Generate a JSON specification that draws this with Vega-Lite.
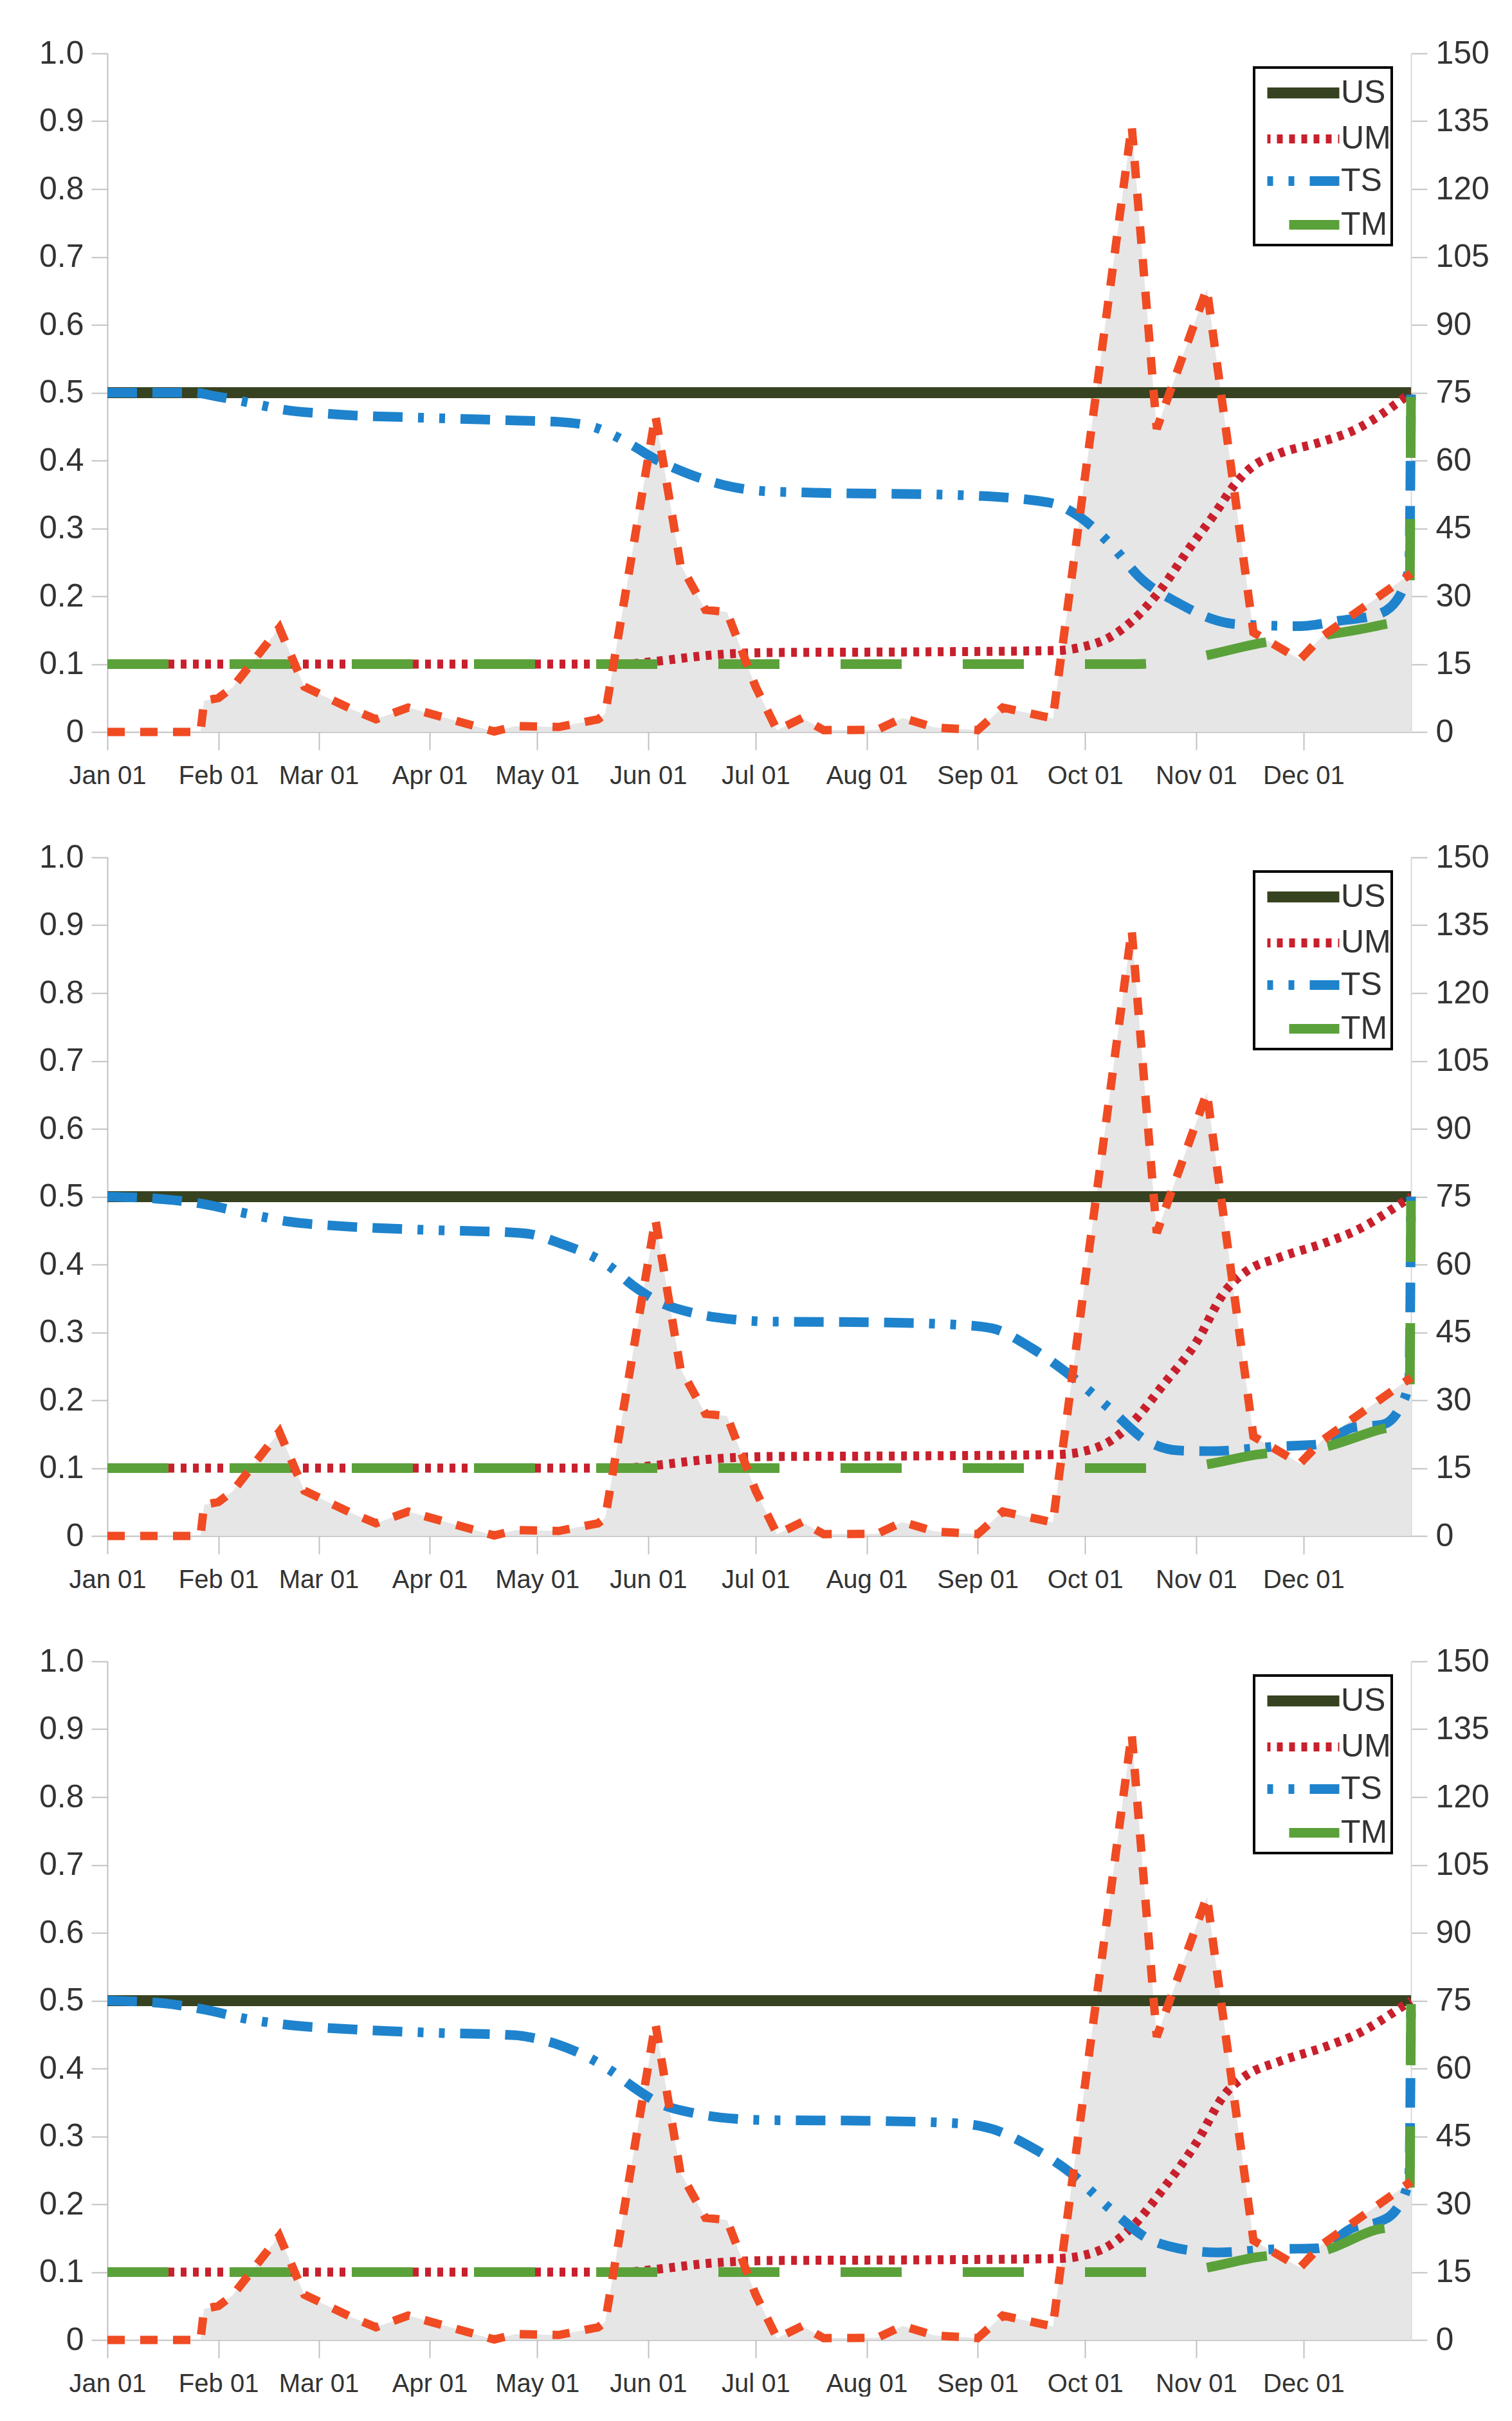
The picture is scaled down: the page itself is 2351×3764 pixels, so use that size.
{
  "$schema": "https://vega.github.io/schema/vega-lite/v6.json",
  "padding": {"left": 60, "top": 58, "right": 0, "bottom": 0},
  "background": "#ffffff",
  "bounds": "flush",
  "spacing": 195,
  "config": {
    "view": {"stroke": null},
    "font": "Liberation Sans",
    "axis": {"title": null, "labelFont": "Liberation Sans", "labelColor": "#333333", "domainColor": "#c0c0c0", "domainWidth": 2, "tickColor": "#c0c0c0", "tickWidth": 2},
    "axisBottom": {"grid": false, "tickSize": 28, "labelFontSize": 40, "labelPadding": 20, "labelOverlap": false, "labelFlush": false},
    "axisLeft": {"grid": true, "gridColor": "#c8c8c8", "gridWidth": 2, "tickSize": 25, "labelFontSize": 50, "labelPadding": 12},
    "axisRight": {"grid": false, "domainColor": "#d9d9d9", "tickSize": 25, "labelFontSize": 50, "labelPadding": 13},
    "legend": {"title": null, "symbolType": "M-0.633,0H3.1", "symbolSize": 3600, "symbolStrokeWidth": 16, "symbolDashOffset": 1866, "labelFont": "Liberation Sans", "labelFontSize": 50, "labelColor": "#333333", "labelOffset": 57, "padding": 1, "rowPadding": -25, "strokeColor": "#000000", "fillColor": "#ffffff"}
  },
  "datasets": {
    "area": [
      {"d": "2021/01/01", "v": 0}, {"d": "2021/01/27", "v": 0}, {"d": "2021/01/28", "v": 6.9},
      {"d": "2021/02/01", "v": 7.5}, {"d": "2021/02/05", "v": 9.9}, {"d": "2021/02/18", "v": 23},
      {"d": "2021/02/25", "v": 10}, {"d": "2021/03/10", "v": 5.1}, {"d": "2021/03/17", "v": 2.8},
      {"d": "2021/03/26", "v": 5.4}, {"d": "2021/04/19", "v": 0.1}, {"d": "2021/04/25", "v": 1.3},
      {"d": "2021/05/07", "v": 1.1}, {"d": "2021/05/18", "v": 2.8}, {"d": "2021/05/20", "v": 4},
      {"d": "2021/06/03", "v": 70}, {"d": "2021/06/10", "v": 37}, {"d": "2021/06/17", "v": 27},
      {"d": "2021/06/23", "v": 26.5}, {"d": "2021/07/01", "v": 10}, {"d": "2021/07/07", "v": 0.4},
      {"d": "2021/07/14", "v": 3.1}, {"d": "2021/07/20", "v": 0.4}, {"d": "2021/08/04", "v": 0.5},
      {"d": "2021/08/11", "v": 3.1}, {"d": "2021/08/20", "v": 1.0}, {"d": "2021/09/01", "v": 0.4},
      {"d": "2021/09/08", "v": 5.4}, {"d": "2021/09/22", "v": 3}, {"d": "2021/10/14", "v": 134},
      {"d": "2021/10/21", "v": 67}, {"d": "2021/11/04", "v": 98}, {"d": "2021/11/17", "v": 22},
      {"d": "2021/11/30", "v": 16}, {"d": "2021/12/06", "v": 21}, {"d": "2021/12/31", "v": 35}
    ],
    "lines": [
      {"p": 1, "s": "US", "d": "2021/01/01", "v": 0.5}, {"p": 1, "s": "US", "d": "2021/12/31", "v": 0.5},
      {"p": 1, "s": "UM", "d": "2021/01/01", "v": 0.1}, {"p": 1, "s": "UM", "d": "2021/05/25", "v": 0.1},
      {"p": 1, "s": "UM", "d": "2021/06/03", "v": 0.104}, {"p": 1, "s": "UM", "d": "2021/06/18", "v": 0.113},
      {"p": 1, "s": "UM", "d": "2021/07/04", "v": 0.117}, {"p": 1, "s": "UM", "d": "2021/08/15", "v": 0.118},
      {"p": 1, "s": "UM", "d": "2021/09/23", "v": 0.12}, {"p": 1, "s": "UM", "d": "2021/09/30", "v": 0.125},
      {"p": 1, "s": "UM", "d": "2021/10/08", "v": 0.14}, {"p": 1, "s": "UM", "d": "2021/10/14", "v": 0.163},
      {"p": 1, "s": "UM", "d": "2021/10/22", "v": 0.209}, {"p": 1, "s": "UM", "d": "2021/10/30", "v": 0.27},
      {"p": 1, "s": "UM", "d": "2021/11/06", "v": 0.32}, {"p": 1, "s": "UM", "d": "2021/11/12", "v": 0.366},
      {"p": 1, "s": "UM", "d": "2021/11/16", "v": 0.388}, {"p": 1, "s": "UM", "d": "2021/11/24", "v": 0.41},
      {"p": 1, "s": "UM", "d": "2021/12/05", "v": 0.426}, {"p": 1, "s": "UM", "d": "2021/12/16", "v": 0.447},
      {"p": 1, "s": "UM", "d": "2021/12/29", "v": 0.492}, {"p": 1, "s": "UM", "d": "2021/12/31", "v": 0.5},
      {"p": 1, "s": "TS", "d": "2021/01/01", "v": 0.5}, {"p": 1, "s": "TS", "d": "2021/01/25", "v": 0.5},
      {"p": 1, "s": "TS", "d": "2021/01/31", "v": 0.495}, {"p": 1, "s": "TS", "d": "2021/02/10", "v": 0.485},
      {"p": 1, "s": "TS", "d": "2021/02/18", "v": 0.476}, {"p": 1, "s": "TS", "d": "2021/03/06", "v": 0.468},
      {"p": 1, "s": "TS", "d": "2021/03/31", "v": 0.463}, {"p": 1, "s": "TS", "d": "2021/04/25", "v": 0.459},
      {"p": 1, "s": "TS", "d": "2021/05/07", "v": 0.457}, {"p": 1, "s": "TS", "d": "2021/05/17", "v": 0.449},
      {"p": 1, "s": "TS", "d": "2021/05/22", "v": 0.438}, {"p": 1, "s": "TS", "d": "2021/05/28", "v": 0.421},
      {"p": 1, "s": "TS", "d": "2021/06/03", "v": 0.402}, {"p": 1, "s": "TS", "d": "2021/06/11", "v": 0.383},
      {"p": 1, "s": "TS", "d": "2021/06/22", "v": 0.364}, {"p": 1, "s": "TS", "d": "2021/07/03", "v": 0.355},
      {"p": 1, "s": "TS", "d": "2021/07/14", "v": 0.353}, {"p": 1, "s": "TS", "d": "2021/08/27", "v": 0.349},
      {"p": 1, "s": "TS", "d": "2021/09/21", "v": 0.338}, {"p": 1, "s": "TS", "d": "2021/09/30", "v": 0.315},
      {"p": 1, "s": "TS", "d": "2021/10/08", "v": 0.277}, {"p": 1, "s": "TS", "d": "2021/10/17", "v": 0.224},
      {"p": 1, "s": "TS", "d": "2021/10/27", "v": 0.19}, {"p": 1, "s": "TS", "d": "2021/11/07", "v": 0.164},
      {"p": 1, "s": "TS", "d": "2021/11/12", "v": 0.159}, {"p": 1, "s": "TS", "d": "2021/11/30", "v": 0.156},
      {"p": 1, "s": "TS", "d": "2021/12/11", "v": 0.164}, {"p": 1, "s": "TS", "d": "2021/12/21", "v": 0.172},
      {"p": 1, "s": "TS", "d": "2021/12/27", "v": 0.194}, {"p": 1, "s": "TS", "d": "2021/12/29", "v": 0.215},
      {"p": 1, "s": "TS", "d": "2021/12/30 12:00", "v": 0.245}, {"p": 1, "s": "TS", "d": "2021/12/31", "v": 0.5},
      {"p": 1, "s": "TM", "d": "2021/01/01", "v": 0.1}, {"p": 1, "s": "TM", "d": "2021/10/15", "v": 0.1},
      {"p": 1, "s": "TM", "d": "2021/10/25", "v": 0.104}, {"p": 1, "s": "TM", "d": "2021/11/03", "v": 0.112},
      {"p": 1, "s": "TM", "d": "2021/11/19", "v": 0.131}, {"p": 1, "s": "TM", "d": "2021/12/06", "v": 0.142},
      {"p": 1, "s": "TM", "d": "2021/12/23", "v": 0.158}, {"p": 1, "s": "TM", "d": "2021/12/30 12:00", "v": 0.168},
      {"p": 1, "s": "TM", "d": "2021/12/31", "v": 0.5},

      {"p": 2, "s": "US", "d": "2021/01/01", "v": 0.5}, {"p": 2, "s": "US", "d": "2021/12/31", "v": 0.5},
      {"p": 2, "s": "UM", "d": "2021/01/01", "v": 0.1}, {"p": 2, "s": "UM", "d": "2021/05/25", "v": 0.1},
      {"p": 2, "s": "UM", "d": "2021/06/03", "v": 0.104}, {"p": 2, "s": "UM", "d": "2021/06/18", "v": 0.113},
      {"p": 2, "s": "UM", "d": "2021/07/04", "v": 0.117}, {"p": 2, "s": "UM", "d": "2021/08/15", "v": 0.118},
      {"p": 2, "s": "UM", "d": "2021/09/23", "v": 0.12}, {"p": 2, "s": "UM", "d": "2021/09/30", "v": 0.124},
      {"p": 2, "s": "UM", "d": "2021/10/08", "v": 0.14}, {"p": 2, "s": "UM", "d": "2021/10/14", "v": 0.166},
      {"p": 2, "s": "UM", "d": "2021/10/23", "v": 0.224}, {"p": 2, "s": "UM", "d": "2021/11/01", "v": 0.285},
      {"p": 2, "s": "UM", "d": "2021/11/09", "v": 0.36}, {"p": 2, "s": "UM", "d": "2021/11/15", "v": 0.39},
      {"p": 2, "s": "UM", "d": "2021/11/24", "v": 0.41}, {"p": 2, "s": "UM", "d": "2021/12/07", "v": 0.432},
      {"p": 2, "s": "UM", "d": "2021/12/16", "v": 0.451}, {"p": 2, "s": "UM", "d": "2021/12/29", "v": 0.493},
      {"p": 2, "s": "UM", "d": "2021/12/31", "v": 0.5},
      {"p": 2, "s": "TS", "d": "2021/01/01", "v": 0.5}, {"p": 2, "s": "TS", "d": "2021/01/15", "v": 0.497},
      {"p": 2, "s": "TS", "d": "2021/01/28", "v": 0.489}, {"p": 2, "s": "TS", "d": "2021/02/09", "v": 0.475},
      {"p": 2, "s": "TS", "d": "2021/02/21", "v": 0.463}, {"p": 2, "s": "TS", "d": "2021/03/06", "v": 0.457},
      {"p": 2, "s": "TS", "d": "2021/03/31", "v": 0.451}, {"p": 2, "s": "TS", "d": "2021/04/25", "v": 0.447},
      {"p": 2, "s": "TS", "d": "2021/04/29", "v": 0.445}, {"p": 2, "s": "TS", "d": "2021/05/07", "v": 0.432},
      {"p": 2, "s": "TS", "d": "2021/05/21", "v": 0.398}, {"p": 2, "s": "TS", "d": "2021/05/28", "v": 0.368},
      {"p": 2, "s": "TS", "d": "2021/06/04", "v": 0.345}, {"p": 2, "s": "TS", "d": "2021/06/14", "v": 0.328},
      {"p": 2, "s": "TS", "d": "2021/06/25", "v": 0.319}, {"p": 2, "s": "TS", "d": "2021/07/04", "v": 0.316},
      {"p": 2, "s": "TS", "d": "2021/08/01", "v": 0.315}, {"p": 2, "s": "TS", "d": "2021/08/27", "v": 0.311},
      {"p": 2, "s": "TS", "d": "2021/09/05", "v": 0.306}, {"p": 2, "s": "TS", "d": "2021/09/16", "v": 0.277},
      {"p": 2, "s": "TS", "d": "2021/09/27", "v": 0.236}, {"p": 2, "s": "TS", "d": "2021/10/08", "v": 0.187},
      {"p": 2, "s": "TS", "d": "2021/10/18", "v": 0.141}, {"p": 2, "s": "TS", "d": "2021/10/27", "v": 0.126},
      {"p": 2, "s": "TS", "d": "2021/11/05", "v": 0.125}, {"p": 2, "s": "TS", "d": "2021/11/24", "v": 0.132},
      {"p": 2, "s": "TS", "d": "2021/12/05", "v": 0.135}, {"p": 2, "s": "TS", "d": "2021/12/15", "v": 0.16},
      {"p": 2, "s": "TS", "d": "2021/12/23", "v": 0.164}, {"p": 2, "s": "TS", "d": "2021/12/28", "v": 0.19},
      {"p": 2, "s": "TS", "d": "2021/12/30 12:00", "v": 0.23}, {"p": 2, "s": "TS", "d": "2021/12/31", "v": 0.5},
      {"p": 2, "s": "TM", "d": "2021/01/01", "v": 0.1}, {"p": 2, "s": "TM", "d": "2021/10/17", "v": 0.1},
      {"p": 2, "s": "TM", "d": "2021/10/25", "v": 0.1}, {"p": 2, "s": "TM", "d": "2021/11/02", "v": 0.104},
      {"p": 2, "s": "TM", "d": "2021/11/18", "v": 0.12}, {"p": 2, "s": "TM", "d": "2021/12/06", "v": 0.13},
      {"p": 2, "s": "TM", "d": "2021/12/21", "v": 0.155}, {"p": 2, "s": "TM", "d": "2021/12/30 12:00", "v": 0.17},
      {"p": 2, "s": "TM", "d": "2021/12/31", "v": 0.5},

      {"p": 3, "s": "US", "d": "2021/01/01", "v": 0.5}, {"p": 3, "s": "US", "d": "2021/12/31", "v": 0.5},
      {"p": 3, "s": "UM", "d": "2021/01/01", "v": 0.1}, {"p": 3, "s": "UM", "d": "2021/05/25", "v": 0.1},
      {"p": 3, "s": "UM", "d": "2021/06/03", "v": 0.104}, {"p": 3, "s": "UM", "d": "2021/06/18", "v": 0.113},
      {"p": 3, "s": "UM", "d": "2021/07/04", "v": 0.117}, {"p": 3, "s": "UM", "d": "2021/08/15", "v": 0.118},
      {"p": 3, "s": "UM", "d": "2021/09/23", "v": 0.12}, {"p": 3, "s": "UM", "d": "2021/09/30", "v": 0.124},
      {"p": 3, "s": "UM", "d": "2021/10/08", "v": 0.14}, {"p": 3, "s": "UM", "d": "2021/10/14", "v": 0.166},
      {"p": 3, "s": "UM", "d": "2021/10/23", "v": 0.224}, {"p": 3, "s": "UM", "d": "2021/11/01", "v": 0.29},
      {"p": 3, "s": "UM", "d": "2021/11/09", "v": 0.362}, {"p": 3, "s": "UM", "d": "2021/11/15", "v": 0.39},
      {"p": 3, "s": "UM", "d": "2021/11/24", "v": 0.41}, {"p": 3, "s": "UM", "d": "2021/12/07", "v": 0.432},
      {"p": 3, "s": "UM", "d": "2021/12/16", "v": 0.451}, {"p": 3, "s": "UM", "d": "2021/12/29", "v": 0.493},
      {"p": 3, "s": "UM", "d": "2021/12/31", "v": 0.5},
      {"p": 3, "s": "TS", "d": "2021/01/01", "v": 0.5}, {"p": 3, "s": "TS", "d": "2021/01/15", "v": 0.497},
      {"p": 3, "s": "TS", "d": "2021/01/28", "v": 0.487}, {"p": 3, "s": "TS", "d": "2021/02/09", "v": 0.473},
      {"p": 3, "s": "TS", "d": "2021/02/21", "v": 0.464}, {"p": 3, "s": "TS", "d": "2021/03/06", "v": 0.459},
      {"p": 3, "s": "TS", "d": "2021/03/31", "v": 0.453}, {"p": 3, "s": "TS", "d": "2021/04/25", "v": 0.449},
      {"p": 3, "s": "TS", "d": "2021/04/29", "v": 0.446}, {"p": 3, "s": "TS", "d": "2021/05/07", "v": 0.435},
      {"p": 3, "s": "TS", "d": "2021/05/21", "v": 0.399}, {"p": 3, "s": "TS", "d": "2021/05/28", "v": 0.372},
      {"p": 3, "s": "TS", "d": "2021/06/04", "v": 0.349}, {"p": 3, "s": "TS", "d": "2021/06/14", "v": 0.334},
      {"p": 3, "s": "TS", "d": "2021/06/25", "v": 0.326}, {"p": 3, "s": "TS", "d": "2021/07/04", "v": 0.324},
      {"p": 3, "s": "TS", "d": "2021/08/01", "v": 0.323}, {"p": 3, "s": "TS", "d": "2021/08/27", "v": 0.319},
      {"p": 3, "s": "TS", "d": "2021/09/05", "v": 0.311}, {"p": 3, "s": "TS", "d": "2021/09/16", "v": 0.284},
      {"p": 3, "s": "TS", "d": "2021/09/27", "v": 0.246}, {"p": 3, "s": "TS", "d": "2021/10/08", "v": 0.193},
      {"p": 3, "s": "TS", "d": "2021/10/18", "v": 0.151}, {"p": 3, "s": "TS", "d": "2021/10/27", "v": 0.135},
      {"p": 3, "s": "TS", "d": "2021/11/07", "v": 0.129}, {"p": 3, "s": "TS", "d": "2021/11/24", "v": 0.134},
      {"p": 3, "s": "TS", "d": "2021/12/05", "v": 0.135}, {"p": 3, "s": "TS", "d": "2021/12/15", "v": 0.166},
      {"p": 3, "s": "TS", "d": "2021/12/22", "v": 0.174}, {"p": 3, "s": "TS", "d": "2021/12/27", "v": 0.193},
      {"p": 3, "s": "TS", "d": "2021/12/30 12:00", "v": 0.24}, {"p": 3, "s": "TS", "d": "2021/12/31", "v": 0.5},
      {"p": 3, "s": "TM", "d": "2021/01/01", "v": 0.1}, {"p": 3, "s": "TM", "d": "2021/10/17", "v": 0.1},
      {"p": 3, "s": "TM", "d": "2021/10/25", "v": 0.101}, {"p": 3, "s": "TM", "d": "2021/11/02", "v": 0.105},
      {"p": 3, "s": "TM", "d": "2021/11/18", "v": 0.122}, {"p": 3, "s": "TM", "d": "2021/12/06", "v": 0.131},
      {"p": 3, "s": "TM", "d": "2021/12/21", "v": 0.162}, {"p": 3, "s": "TM", "d": "2021/12/30 12:00", "v": 0.172},
      {"p": 3, "s": "TM", "d": "2021/12/31", "v": 0.5}
    ]
  },
  "vconcat": [
    {
      "width": 2027, "height": 1055,
      "encoding": {"x": {"field": "d", "type": "temporal", "scale": {"domain": [{"year": 2021, "month": 1, "date": 1}, {"year": 2021, "month": 12, "date": 31}]}, "axis": {"format": "%b %d", "tickCount": {"interval": "month", "step": 1}}}},
      "layer": [
        {"data": {"name": "area"}, "mark": {"type": "area", "color": "#e6e6e6"},
         "encoding": {"y": {"field": "v", "type": "quantitative", "scale": {"domain": [0, 150]}, "axis": {"orient": "right", "values": [0, 15, 30, 45, 60, 75, 90, 105, 120, 135, 150]}}}},
        {"data": {"name": "lines"}, "transform": [{"filter": "datum.p == 1"}],
         "mark": {"type": "line", "interpolate": "monotone", "strokeCap": "butt"},
         "encoding": {
           "y": {"field": "v", "type": "quantitative", "scale": {"domain": [0, 1]}, "axis": {"orient": "left", "values": [0, 0.1, 0.2, 0.3, 0.4, 0.5, 0.6, 0.7, 0.8, 0.9, 1], "labelExpr": "datum.value == 0 ? '0' : format(datum.value, '.1f')"}},
           "color": {"field": "s", "type": "nominal", "scale": {"domain": ["US", "UM", "TS", "TM"], "range": ["#374220", "#c8202c", "#1e83cc", "#5ba13a"]}, "legend": {"orient": "none", "legendX": 1783, "legendY": 22, "encode": {"legend": {"update": {"strokeWidth": {"value": 4}}}}}},
           "strokeDash": {"field": "s", "type": "nominal", "scale": {"domain": ["US", "UM", "TS", "TM"], "range": [[1, 0], [9, 10], [46, 24, 46, 24, 46, 24, 9, 24, 9, 24], [95, 95]]}, "legend": {"orient": "none", "legendX": 1783, "legendY": 22}},
           "strokeWidth": {"field": "s", "type": "nominal", "scale": {"type": "ordinal", "domain": ["US", "UM", "TS", "TM"], "range": [17, 14, 15, 15]}, "legend": null}
         }},
        {"data": {"name": "area"}, "mark": {"type": "line", "color": "#f04b23", "strokeWidth": 13, "strokeDash": [27, 24], "strokeCap": "butt"},
         "encoding": {"y": {"field": "v", "type": "quantitative", "scale": {"domain": [0, 150]}, "axis": null}}}
      ],
      "resolve": {"scale": {"y": "independent"}}
    },
    {
      "width": 2027, "height": 1055,
      "encoding": {"x": {"field": "d", "type": "temporal", "scale": {"domain": [{"year": 2021, "month": 1, "date": 1}, {"year": 2021, "month": 12, "date": 31}]}, "axis": {"format": "%b %d", "tickCount": {"interval": "month", "step": 1}}}},
      "layer": [
        {"data": {"name": "area"}, "mark": {"type": "area", "color": "#e6e6e6"},
         "encoding": {"y": {"field": "v", "type": "quantitative", "scale": {"domain": [0, 150]}, "axis": {"orient": "right", "values": [0, 15, 30, 45, 60, 75, 90, 105, 120, 135, 150]}}}},
        {"data": {"name": "lines"}, "transform": [{"filter": "datum.p == 2"}],
         "mark": {"type": "line", "interpolate": "monotone", "strokeCap": "butt"},
         "encoding": {
           "y": {"field": "v", "type": "quantitative", "scale": {"domain": [0, 1]}, "axis": {"orient": "left", "values": [0, 0.1, 0.2, 0.3, 0.4, 0.5, 0.6, 0.7, 0.8, 0.9, 1], "labelExpr": "datum.value == 0 ? '0' : format(datum.value, '.1f')"}},
           "color": {"field": "s", "type": "nominal", "scale": {"domain": ["US", "UM", "TS", "TM"], "range": ["#374220", "#c8202c", "#1e83cc", "#5ba13a"]}, "legend": {"orient": "none", "legendX": 1783, "legendY": 22, "encode": {"legend": {"update": {"strokeWidth": {"value": 4}}}}}},
           "strokeDash": {"field": "s", "type": "nominal", "scale": {"domain": ["US", "UM", "TS", "TM"], "range": [[1, 0], [9, 10], [46, 24, 46, 24, 46, 24, 9, 24, 9, 24], [95, 95]]}, "legend": {"orient": "none", "legendX": 1783, "legendY": 22}},
           "strokeWidth": {"field": "s", "type": "nominal", "scale": {"type": "ordinal", "domain": ["US", "UM", "TS", "TM"], "range": [17, 14, 15, 15]}, "legend": null}
         }},
        {"data": {"name": "area"}, "mark": {"type": "line", "color": "#f04b23", "strokeWidth": 13, "strokeDash": [27, 24], "strokeCap": "butt"},
         "encoding": {"y": {"field": "v", "type": "quantitative", "scale": {"domain": [0, 150]}, "axis": null}}}
      ],
      "resolve": {"scale": {"y": "independent"}}
    },
    {
      "width": 2027, "height": 1055,
      "encoding": {"x": {"field": "d", "type": "temporal", "scale": {"domain": [{"year": 2021, "month": 1, "date": 1}, {"year": 2021, "month": 12, "date": 31}]}, "axis": {"format": "%b %d", "tickCount": {"interval": "month", "step": 1}}}},
      "layer": [
        {"data": {"name": "area"}, "mark": {"type": "area", "color": "#e6e6e6"},
         "encoding": {"y": {"field": "v", "type": "quantitative", "scale": {"domain": [0, 150]}, "axis": {"orient": "right", "values": [0, 15, 30, 45, 60, 75, 90, 105, 120, 135, 150]}}}},
        {"data": {"name": "lines"}, "transform": [{"filter": "datum.p == 3"}],
         "mark": {"type": "line", "interpolate": "monotone", "strokeCap": "butt"},
         "encoding": {
           "y": {"field": "v", "type": "quantitative", "scale": {"domain": [0, 1]}, "axis": {"orient": "left", "values": [0, 0.1, 0.2, 0.3, 0.4, 0.5, 0.6, 0.7, 0.8, 0.9, 1], "labelExpr": "datum.value == 0 ? '0' : format(datum.value, '.1f')"}},
           "color": {"field": "s", "type": "nominal", "scale": {"domain": ["US", "UM", "TS", "TM"], "range": ["#374220", "#c8202c", "#1e83cc", "#5ba13a"]}, "legend": {"orient": "none", "legendX": 1783, "legendY": 22, "encode": {"legend": {"update": {"strokeWidth": {"value": 4}}}}}},
           "strokeDash": {"field": "s", "type": "nominal", "scale": {"domain": ["US", "UM", "TS", "TM"], "range": [[1, 0], [9, 10], [46, 24, 46, 24, 46, 24, 9, 24, 9, 24], [95, 95]]}, "legend": {"orient": "none", "legendX": 1783, "legendY": 22}},
           "strokeWidth": {"field": "s", "type": "nominal", "scale": {"type": "ordinal", "domain": ["US", "UM", "TS", "TM"], "range": [17, 14, 15, 15]}, "legend": null}
         }},
        {"data": {"name": "area"}, "mark": {"type": "line", "color": "#f04b23", "strokeWidth": 13, "strokeDash": [27, 24], "strokeCap": "butt"},
         "encoding": {"y": {"field": "v", "type": "quantitative", "scale": {"domain": [0, 150]}, "axis": null}}}
      ],
      "resolve": {"scale": {"y": "independent"}}
    }
  ],
  "resolve": {"scale": {"color": "independent", "strokeDash": "independent", "strokeWidth": "independent"}, "legend": {"color": "independent", "strokeDash": "independent"}}
}
